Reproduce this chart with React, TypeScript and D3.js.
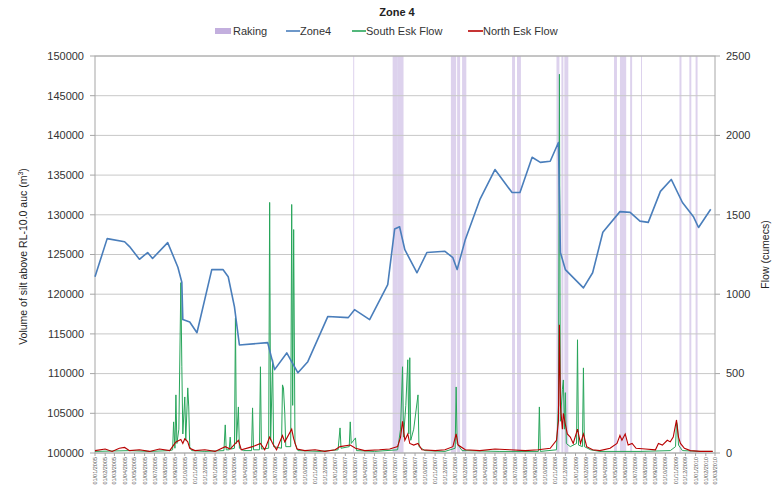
import React from "react";
import * as d3 from "d3";

const W = 777;
const H = 489;

const zone4Dates = [
  "2005-01-01","2005-02-07","2005-04-01","2005-04-16","2005-05-16","2005-06-10","2005-06-25","2005-08-10",
  "2005-09-10","2005-09-22","2005-09-25","2005-10-16","2005-11-07","2005-12-22","2006-01-25","2006-02-10",
  "2006-03-01","2006-03-16","2006-06-10","2006-07-01","2006-08-07","2006-09-10","2006-10-10","2006-12-10",
  "2007-02-10","2007-03-01","2007-04-16","2007-06-10","2007-07-01","2007-07-16","2007-08-01","2007-09-07",
  "2007-10-07","2007-12-01","2007-12-25","2008-01-07","2008-02-01","2008-03-16","2008-05-01","2008-06-22",
  "2008-07-16","2008-08-22","2008-09-16","2008-10-16","2008-11-10","2008-11-16","2008-12-01","2009-01-25",
  "2009-02-22","2009-03-25","2009-05-16","2009-06-16","2009-07-16","2009-08-10","2009-09-16","2009-10-19",
  "2009-11-22","2009-12-25","2010-01-10","2010-02-16"
];
const zone4Values = [
  122200,127000,126600,126000,124400,125250,124500,126500,
  123400,121500,116800,116500,115150,123100,123100,122200,
  118400,113600,113900,110500,112600,110100,111500,117200,
  117050,118050,116800,121200,128200,128500,125600,122700,
  125250,125400,124600,123100,126900,131900,135700,132800,
  132800,137250,136600,136750,139100,125250,123100,120800,
  122700,127800,130400,130300,129200,129050,132950,134450,
  131550,129800,128400,130700
];

const southEsk: [string, number][] = [
  ["2005-01-01",10],["2005-04-16",15],["2005-06-16",10],["2005-08-16",15],
  ["2005-08-25",20],["2005-08-28",196],["2005-09-01",30],["2005-09-04",366],["2005-09-07",60],["2005-09-13",150],
  ["2005-09-19",1073],["2005-09-22",543],["2005-09-25",120],["2005-10-01",353],["2005-10-04",80],["2005-10-10",410],
  ["2005-10-13",290],["2005-10-16",40],["2005-10-22",15],["2005-12-01",10],
  ["2006-01-28",15],["2006-02-01",177],["2006-02-04",20],["2006-02-13",20],["2006-02-16",100],["2006-02-19",25],
  ["2006-03-01",30],["2006-03-04",850],["2006-03-07",60],["2006-03-13",290],["2006-03-16",30],["2006-03-28",15],
  ["2006-04-22",15],["2006-04-25",284],["2006-04-28",20],["2006-05-16",20],["2006-05-19",543],["2006-05-22",25],
  ["2006-06-13",30],["2006-06-16",1578],["2006-06-19",80],["2006-06-25",587],["2006-06-28",40],["2006-07-22",30],
  ["2006-07-25",429],["2006-07-28",410],["2006-08-01",250],["2006-08-04",40],["2006-08-19",40],["2006-08-22",1565],
  ["2006-08-25",300],["2006-08-28",1407],["2006-09-01",60],["2006-09-10",15],
  ["2006-11-16",10],["2007-01-10",20],["2007-01-16",158],["2007-01-19",30],["2007-02-13",40],["2007-02-16",196],
  ["2007-02-19",60],["2007-03-04",95],["2007-03-07",15],["2007-05-01",10],
  ["2007-07-10",20],["2007-07-19",150],["2007-07-25",543],["2007-07-28",100],["2007-08-04",300],["2007-08-10",587],
  ["2007-08-13",120],["2007-08-16",600],["2007-08-19",80],["2007-08-28",150],["2007-09-10",366],["2007-09-13",40],
  ["2007-10-01",15],["2007-12-01",10],
  ["2008-01-01",30],["2008-01-04",416],["2008-01-07",60],["2008-01-22",15],["2008-05-16",10],["2008-09-10",10],
  ["2008-09-13",290],["2008-09-16",10],
  ["2008-11-04",20],["2008-11-10",300],["2008-11-13",2385],["2008-11-16",200],["2008-11-22",400],["2008-11-25",460],
  ["2008-11-28",150],["2008-12-01",380],["2008-12-04",60],["2008-12-16",40],["2009-01-04",60],["2009-01-07",713],
  ["2009-01-10",50],["2009-01-22",40],["2009-01-25",536],["2009-01-28",40],["2009-02-16",20],["2009-03-16",10],
  ["2009-07-16",10],["2009-10-16",15],["2009-11-01",40],["2009-11-04",196],["2009-11-07",170],["2009-11-10",50],
  ["2009-11-22",15],["2010-01-16",10],["2010-02-22",10]
];

const northEsk: [string, number][] = [
  ["2005-01-01",15],["2005-02-01",25],["2005-02-22",10],["2005-03-16",30],["2005-04-01",35],["2005-04-16",15],
  ["2005-05-16",20],["2005-06-16",10],["2005-07-16",25],["2005-08-16",15],["2005-08-28",50],["2005-09-04",70],
  ["2005-09-19",85],["2005-09-25",60],["2005-10-01",90],["2005-10-10",70],["2005-10-16",30],["2005-11-01",15],
  ["2005-12-01",20],["2006-01-01",10],["2006-02-01",40],["2006-02-16",25],["2006-03-04",60],["2006-03-13",80],
  ["2006-03-22",20],["2006-04-25",40],["2006-05-19",60],["2006-06-01",20],["2006-06-16",100],["2006-06-25",60],
  ["2006-07-07",20],["2006-07-25",110],["2006-08-01",70],["2006-08-22",150],["2006-08-28",90],["2006-09-07",25],
  ["2006-10-01",15],["2006-11-01",20],["2006-12-01",10],["2007-01-01",20],["2007-01-16",40],["2007-02-16",50],
  ["2007-03-04",30],["2007-04-01",15],["2007-05-16",20],["2007-06-16",25],["2007-07-10",40],["2007-07-19",100],
  ["2007-07-25",200],["2007-08-01",80],["2007-08-10",120],["2007-08-16",60],["2007-08-28",50],["2007-09-10",60],
  ["2007-09-22",20],["2007-11-01",15],["2007-12-01",20],["2007-12-25",40],["2008-01-04",120],["2008-01-10",50],
  ["2008-02-01",20],["2008-03-16",15],["2008-05-01",25],["2008-06-16",20],["2008-08-01",15],["2008-09-10",20],
  ["2008-10-16",30],["2008-11-04",80],["2008-11-10",200],["2008-11-13",808],["2008-11-16",300],["2008-11-22",150],
  ["2008-11-25",250],["2008-12-01",180],["2008-12-07",120],["2008-12-16",100],["2008-12-25",60],["2009-01-07",150],
  ["2009-01-16",60],["2009-01-25",120],["2009-02-04",40],["2009-02-22",20],["2009-03-16",15],["2009-04-16",30],
  ["2009-05-07",60],["2009-05-16",110],["2009-05-22",80],["2009-06-01",120],["2009-06-10",50],["2009-06-22",60],
  ["2009-07-04",30],["2009-08-01",25],["2009-09-01",20],["2009-09-10",60],["2009-09-22",50],["2009-10-07",80],
  ["2009-10-16",70],["2009-10-25",100],["2009-11-04",208],["2009-11-07",150],["2009-11-10",100],["2009-11-16",60],
  ["2009-11-28",30],["2009-12-16",15],["2010-01-16",10],["2010-02-22",10]
];

const rakingPeriods: [string, string][] = [
  ["2007-02-25","2007-02-28"],["2007-06-25","2007-07-10"],["2007-07-10","2007-07-28"],
  ["2007-12-19","2008-01-04"],["2008-01-07","2008-01-16"],["2008-01-22","2008-02-04"],
  ["2008-06-22","2008-07-01"],["2008-07-07","2008-07-19"],
  ["2008-11-04","2008-11-13"],["2008-11-19","2008-11-25"],["2008-11-28","2008-12-10"],
  ["2009-04-28","2009-05-07"],["2009-05-16","2009-06-04"],["2009-06-16","2009-06-22"],
  ["2009-07-19","2009-07-22"],["2009-11-13","2009-11-19"],["2009-12-13","2009-12-19"],
  ["2010-01-01","2010-01-07"]
];

const leftTicks = [100000,105000,110000,115000,120000,125000,130000,135000,140000,145000,150000];
const rightTicks = [0,500,1000,1500,2000,2500];
const xStart = "2005-01-01";
const xEnd = "2010-03-01";

const parse = d3.timeParse("%Y-%m-%d");
const fmt = d3.timeFormat("%d/%m/%Y");

const M = { left: 95, right: 715, top: 56, bottom: 453 };
const FONT = "Liberation Sans, Arial, sans-serif";

export default function App() {
  const x = d3.scaleTime().domain([parse(xStart)!, parse(xEnd)!]).range([M.left, M.right]);
  const yL = d3.scaleLinear().domain([100000, 150000]).range([M.bottom, M.top]);
  const yR = d3.scaleLinear().domain([0, 2500]).range([M.bottom, M.top]);

  const zoneLine = d3.line<number>()
    .x((_, i) => x(parse(zone4Dates[i])!))
    .y((v) => yL(v));
  const flowLine = d3.line<[string, number]>()
    .x((d) => x(parse(d[0])!))
    .y((d) => yR(d[1]));

  const monthTicks = d3.timeMonth.range(parse(xStart)!, d3.timeDay.offset(parse(xEnd)!, 1));

  return (
    <svg width={W} height={H} style={{ position: "absolute", left: 0, top: 0, background: "#fff" }} fontFamily={FONT}>
      {rakingPeriods.map((p, i) => {
        const x0 = x(parse(p[0])!);
        const x1 = x(parse(p[1])!);
        return (
          <rect key={"r" + i} x={x0} y={M.top} width={Math.max(1, x1 - x0)} height={M.bottom - M.top}
            fill="#b49bd6" opacity={0.45} />
        );
      })}
      {leftTicks.map((t) => (
        <line key={"g" + t} x1={M.left} x2={M.right} y1={yL(t)} y2={yL(t)} stroke="#c8c8c8" strokeWidth={1} />
      ))}
      <rect x={M.left} y={M.top} width={M.right - M.left} height={M.bottom - M.top} fill="none" stroke="#a6a6a6" strokeWidth={1} />
      <path d={flowLine(southEsk)!} fill="none" stroke="#27a55a" strokeWidth={1} />
      <path d={flowLine(northEsk)!} fill="none" stroke="#b80000" strokeWidth={1.1} />
      <path d={zoneLine(zone4Values)!} fill="none" stroke="#4a7ebb" strokeWidth={1.6} strokeLinejoin="round" />

      {leftTicks.map((t) => (
        <g key={"l" + t}>
          <line x1={M.left - 5} x2={M.left} y1={yL(t)} y2={yL(t)} stroke="#a6a6a6" />
          <text x={M.left - 11} y={yL(t)} dy="0.35em" textAnchor="end" fontSize={11} fill="#333">{t}</text>
        </g>
      ))}
      {rightTicks.map((t) => (
        <g key={"rt" + t}>
          <line x1={M.right} x2={M.right + 5} y1={yR(t)} y2={yR(t)} stroke="#a6a6a6" />
          <text x={M.right + 11} y={yR(t)} dy="0.35em" textAnchor="start" fontSize={11} fill="#333">{t}</text>
        </g>
      ))}
      {monthTicks.map((d, i) => (
        <g key={"x" + i}>
          <line x1={x(d)} x2={x(d)} y1={M.bottom} y2={M.bottom + 3} stroke="#a6a6a6" />
          <text transform={`translate(${x(d) + 2},${M.bottom + 4}) rotate(-90)`} textAnchor="end" fontSize={5.5} fill="#555">{fmt(d)}</text>
        </g>
      ))}

      <text transform={`translate(27,${(M.top + M.bottom) / 2 + 2}) rotate(-90)`} textAnchor="middle" fontSize={10.5} fill="#222">
        Volume of silt above RL-10.0 auc (m<tspan dy="-4" fontSize={7}>3</tspan><tspan dy="4">)</tspan>
      </text>
      <text transform={`translate(769,${(M.top + M.bottom) / 2}) rotate(-90)`} textAnchor="middle" fontSize={10.5} fill="#222">
        Flow (cumecs)
      </text>

      <text x={397} y={16} textAnchor="middle" fontSize={11} fontWeight="bold" fill="#222">Zone 4</text>

      <g fontSize={11} fill="#333">
        <rect x={215} y={28} width={16} height={6} fill="#b49bd6" opacity={0.8} />
        <text x={233} y={31} dy="0.35em">Raking</text>
        <line x1={286} x2={300} y1={31} y2={31} stroke="#4a7ebb" strokeWidth={1.6} />
        <text x={300} y={31} dy="0.35em">Zone4</text>
        <line x1={352} x2={366} y1={31} y2={31} stroke="#27a55a" strokeWidth={1.6} />
        <text x={366} y={31} dy="0.35em">South Esk Flow</text>
        <line x1={468} x2={483} y1={31} y2={31} stroke="#b80000" strokeWidth={1.6} />
        <text x={483} y={31} dy="0.35em">North Esk Flow</text>
      </g>
    </svg>
  );
}
